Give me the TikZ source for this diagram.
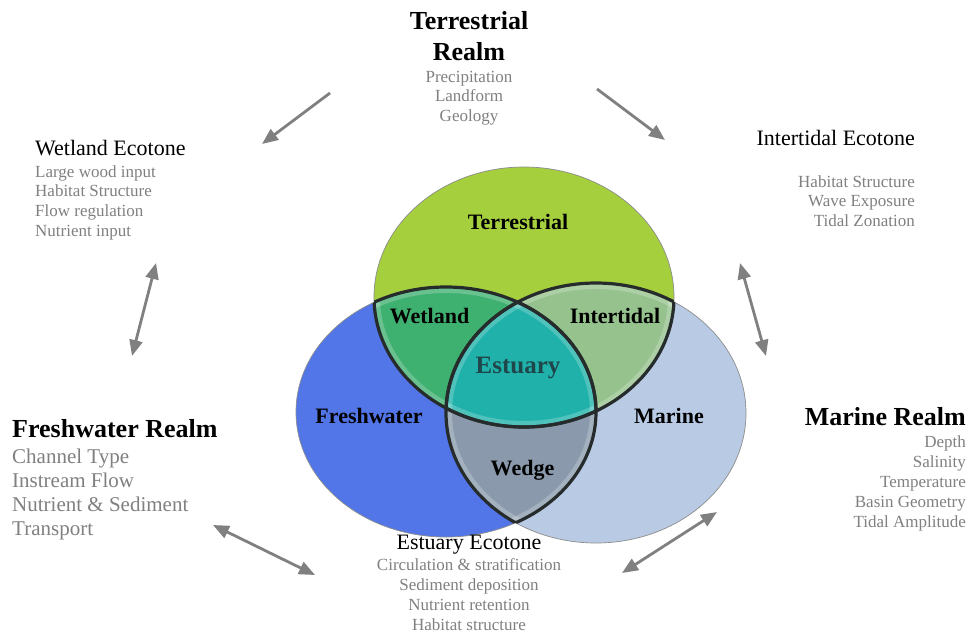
\documentclass[tikz,border=0pt]{standalone}
\usepackage{fontspec}
\setmainfont{Liberation Serif}
\usetikzlibrary{arrows.meta}
\definecolor{terrgreen}{RGB}{166,207,62}
\definecolor{freshblue}{RGB}{82,118,232}
\definecolor{marineblue}{RGB}{185,203,228}
\definecolor{wetgreen}{RGB}{62,176,112}
\definecolor{intergreen}{RGB}{150,194,142}
\definecolor{estuteal}{RGB}{32,178,170}
\definecolor{wedgegray}{RGB}{138,154,172}
\definecolor{estutext}{RGB}{30,70,75}
\definecolor{greytxt}{RGB}{128,128,128}
\definecolor{arrowgray}{RGB}{128,128,128}
\definecolor{darkedge}{RGB}{38,44,44}
\def\GreenEll{(524,297) ellipse [x radius=150pt, y radius=130pt]}
\def\BlueEll{(446,412) ellipse [x radius=150pt, y radius=125pt]}
\def\MarineEll{(596,413) ellipse [x radius=150pt, y radius=130pt]}
\begin{document}
\begin{tikzpicture}[x=1pt,y=-1pt,
  arr/.style={draw=arrowgray, line width=2.8pt, -{Triangle[length=16pt,width=13pt]}},
  darr/.style={draw=arrowgray, line width=2.8pt, {Triangle[length=16pt,width=13pt]}-{Triangle[length=16pt,width=13pt]}},
  inlab/.style={font=\fontsize{22}{26}\selectfont\bfseries, inner sep=0, anchor=base},
  titlelab/.style={font=\fontsize{22}{26}\selectfont, inner sep=0},
  realmlab/.style={font=\fontsize{26}{31}\selectfont\bfseries, inner sep=0},
  bodylab/.style={text=greytxt, inner sep=0},
  thinedge/.style={draw=black!45, line width=0.7pt},
  dedge/.style={draw=darkedge, line width=3.2pt},
  glow/.style={draw=white, line width=12pt, opacity=0.22}
]
\useasboundingbox (0,0) rectangle (971,635);
\fill[white] (0,0) rectangle (971,635);

% base ellipses
\fill[freshblue] \BlueEll;
\fill[marineblue] \MarineEll;
\fill[terrgreen] \GreenEll;
% intersections
\begin{scope}\clip \GreenEll; \clip \BlueEll; \fill[wetgreen] \BlueEll;
  \draw[glow] \BlueEll; \draw[glow] \GreenEll; \end{scope}
\begin{scope}\clip \GreenEll; \clip \MarineEll; \fill[intergreen] \MarineEll;
  \draw[glow] \MarineEll; \draw[glow] \GreenEll; \end{scope}
\begin{scope}\clip \BlueEll; \clip \MarineEll; \fill[wedgegray] \MarineEll;
  \draw[glow] \MarineEll; \draw[glow] \BlueEll; \end{scope}
\begin{scope}\clip \GreenEll; \clip \BlueEll; \clip \MarineEll; \fill[estuteal] \MarineEll;
  \draw[glow] \MarineEll; \draw[glow] \BlueEll; \draw[glow] \GreenEll; \end{scope}
% outer outlines
\draw[thinedge] \BlueEll;
\draw[thinedge] \MarineEll;
\draw[thinedge] \GreenEll;
% dark inner edges
\begin{scope}\clip \GreenEll; \draw[dedge] \BlueEll; \draw[dedge] \MarineEll; \end{scope}
\begin{scope}\clip \BlueEll; \draw[dedge] \GreenEll; \draw[dedge] \MarineEll; \end{scope}
\begin{scope}\clip \MarineEll; \draw[dedge] \GreenEll; \draw[dedge] \BlueEll; \end{scope}

% region labels
\node[inlab] (lTerr) at (518,229) {Terrestrial};
\node[inlab] (lWet) at (429.5,323) {Wetland};
\node[inlab] (lInter) at (615,323) {Intertidal};
\node[inlab, font=\fontsize{25}{30}\selectfont\bfseries, text=estutext] (lEst) at (518,373) {Estuary};
\node[inlab] (lFresh) at (369,423) {Freshwater};
\node[inlab] (lMar) at (669,423) {Marine};
\node[inlab] (lWedge) at (522.5,475) {Wedge};

% Terrestrial Realm
\node[realmlab, anchor=base] (terrTitle) at (469,29)
  {\begin{tabular}[t]{@{}c@{}}Terrestrial\\Realm\end{tabular}};
\node[bodylab, anchor=base] (terrBody) at (469,82)
  {\fontsize{17}{19.5}\selectfont\begin{tabular}[t]{@{}c@{}}Precipitation\\Landform\\Geology\end{tabular}};

% Wetland Ecotone
\node[titlelab, anchor=base west] (wetTitle) at (35,155) {Wetland Ecotone};
\node[bodylab, anchor=base west] (wetBody) at (35,177)
  {\fontsize{17}{19.7}\selectfont\begin{tabular}[t]{@{}l@{}}Large wood input\\Habitat Structure\\Flow regulation\\Nutrient input\end{tabular}};

% Intertidal Ecotone
\node[titlelab, anchor=base east] (interTitle) at (915,145) {Intertidal Ecotone};
\node[bodylab, anchor=base east] (interBody) at (915,187)
  {\fontsize{17}{19.5}\selectfont\begin{tabular}[t]{@{}r@{}}Habitat Structure\\Wave Exposure\\Tidal Zonation\end{tabular}};

% Freshwater Realm
\node[realmlab, anchor=base west] (freshTitle) at (12,437) {Freshwater Realm};
\node[bodylab, anchor=base west] (freshBody) at (12,463)
  {\fontsize{21}{24.3}\selectfont\begin{tabular}[t]{@{}l@{}}Channel Type\\Instream Flow\\Nutrient \& Sediment\\Transport\end{tabular}};

% Marine Realm
\node[realmlab, anchor=base east] (marTitle) at (966,425) {Marine Realm};
\node[bodylab, anchor=base east] (marBody) at (966,447)
  {\fontsize{17}{20}\selectfont\begin{tabular}[t]{@{}r@{}}Depth\\Salinity\\Temperature\\Basin Geometry\\Tidal Amplitude\end{tabular}};

% Estuary Ecotone
\node[titlelab, anchor=base] (estTitle) at (469,549) {Estuary Ecotone};
\node[bodylab, anchor=base] (estBody) at (469,570)
  {\fontsize{17}{20}\selectfont\begin{tabular}[t]{@{}c@{}}Circulation \& stratification\\Sediment deposition\\Nutrient retention\\Habitat structure\end{tabular}};

% arrow end points
\coordinate (a1s) at (330,93);
\coordinate (a1e) at (262,144);
\coordinate (a2s) at (597,89);
\coordinate (a2e) at (665,140);
\coordinate (a3s) at (156,263);
\coordinate (a3e) at (132,356);
\coordinate (a4s) at (740,263);
\coordinate (a4e) at (766,356);
\coordinate (a5s) at (213,525);
\coordinate (a5e) at (315,575);
\coordinate (a6s) at (622,573);
\coordinate (a6e) at (717,512);

\draw[arr] (a1s) -- (a1e);
\draw[arr] (a2s) -- (a2e);
\draw[darr] (a3s) -- (a3e);
\draw[darr] (a4s) -- (a4e);
\draw[darr] (a5s) -- (a5e);
\draw[darr] (a6s) -- (a6e);
\end{tikzpicture}
\end{document}
